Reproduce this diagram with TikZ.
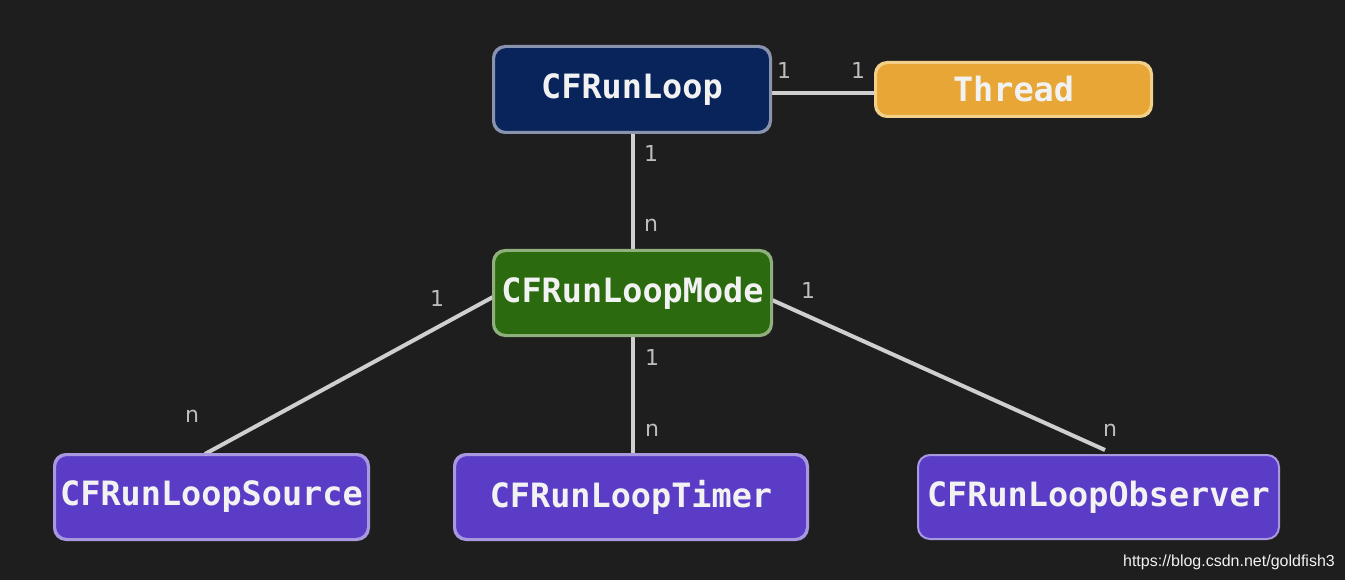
\documentclass[tikz,border=0pt]{standalone}
\usepackage{fontspec}
\setmonofont{DejaVu Sans Mono}
\newfontfamily\lblfont{DejaVu Sans}
\newfontfamily\wmfont{Liberation Sans}
\definecolor{bg}{HTML}{1E1E1E}
\definecolor{navy}{HTML}{08245A}
\definecolor{navyb}{HTML}{8A93AE}
\definecolor{orng}{HTML}{E8A636}
\definecolor{orngb}{HTML}{F2D08A}
\definecolor{grn}{HTML}{2C6A10}
\definecolor{grnb}{HTML}{8FB07C}
\definecolor{purp}{HTML}{5A3CC6}
\definecolor{purpb}{HTML}{A898E0}
\definecolor{linec}{HTML}{CFCFCF}
\definecolor{lblc}{HTML}{BDBDBD}
\definecolor{txtc}{HTML}{F2F2F2}
\tikzset{
  box/.style={rounded corners=12pt, line width=2pt, inner sep=0pt,
    font=\ttfamily\bfseries\fontsize{33.5}{36}\selectfont, text=txtc},
  conn/.style={draw=linec, line width=4pt},
  mult/.style={font=\lblfont\fontsize{22}{24}\selectfont, text=lblc, inner sep=0pt}
}
\begin{document}
\begin{tikzpicture}[x=1pt,y=-1pt]
\useasboundingbox (0,0) rectangle (1345,580);
\fill[bg] (0,0) rectangle (1345,580);
\node[box, fill=navy, draw=navyb, minimum width=276pt, minimum height=85pt] (loop) at (632,89.5) {CFRunLoop};
\node[box, fill=orng, draw=orngb, minimum width=275pt, minimum height=53pt] (thread) at (1013.5,89.5) {Thread};
\node[box, fill=grn, draw=grnb, minimum width=277pt, minimum height=84pt] (mode) at (632.5,293) {CFRunLoopMode};
\node[box, fill=purp, draw=purpb, minimum width=313pt, minimum height=84pt] (source) at (211.5,497) {CFRunLoopSource};
\node[box, fill=purp, draw=purpb, minimum width=352pt, minimum height=84pt] (timer) at (631,497) {CFRunLoopTimer};
\node[box, fill=purp, draw=purpb, minimum width=361pt, minimum height=84pt] (observer) at (1098.5,497) {CFRunLoopObserver};
\coordinate (obsend) at (1105,450);
\draw[conn] (loop.east |- 0,93) -- (thread.west |- 0,93);
\draw[conn] (loop.south -| 633,0) -- (mode.north -| 633,0);
\draw[conn] (mode.south -| 633,0) -- (timer.north -| 633,0);
\draw[conn] (mode.west |- 0,297) -- (source.north -| 205,0);
\draw[conn] (mode.east |- 0,300) -- (obsend);
\foreach \n/\d in {loop/navyb, mode/grnb, source/purpb, timer/purpb, thread/orngb}{
  \draw[\d, line width=2pt, rounded corners=12pt] (\n.north west) rectangle (\n.south east);
}
\node[mult] (m1) at (784,70) {1};
\node[mult] (m2) at (858,70) {1};
\node[mult] (m3) at (651,153) {1};
\node[mult] (m4) at (651,225) {n};
\node[mult] (m5) at (437,298) {1};
\node[mult] (m6) at (192,416) {n};
\node[mult] (m7) at (652,357) {1};
\node[mult] (m8) at (652,430) {n};
\node[mult] (m9) at (808,290) {1};
\node[mult] (m10) at (1110,430) {n};
\node[font=\wmfont\fontsize{16}{18}\selectfont, text=txtc, anchor=east, inner sep=0pt] (wm) at (1335,562) {https://blog.csdn.net/goldfish3};
\end{tikzpicture}
\end{document}
